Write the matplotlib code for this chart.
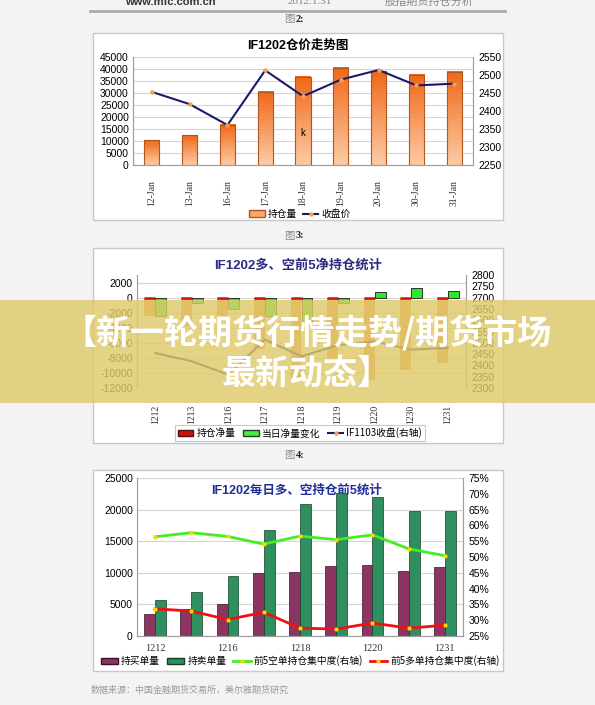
import matplotlib
matplotlib.use('Agg')
import matplotlib.pyplot as plt
import numpy as np
from matplotlib.patches import Rectangle, Patch
from matplotlib.lines import Line2D
from matplotlib.colors import LinearSegmentedColormap

plt.rcParams['font.family'] = ['Liberation Sans', 'Noto Sans CJK SC']
plt.rcParams['axes.unicode_minus'] = False
SERIF = ['Liberation Serif', 'Noto Sans CJK SC']
CJK = ['Noto Sans CJK SC', 'Liberation Sans']

# ---------------- data ----------------
dates1 = ['12-Jan', '13-Jan', '16-Jan', '17-Jan', '18-Jan', '19-Jan', '20-Jan', '30-Jan', '31-Jan']
open_interest = [10400, 12400, 16800, 30600, 36700, 40500, 39000, 37600, 38800]
close_price = [2453, 2419, 2361, 2513, 2441, 2487, 2514, 2471, 2476]

days = ['1212', '1213', '1216', '1217', '1218', '1219', '1220', '1230', '1231']
net_position = [-2400, -3800, -3000, -6800, -10800, -8300, -11000, -9600, -8700]
net_change = [-2400, -700, -1500, -2400, -3200, -700, 700, 1300, 900]
if1103_close = [2455, 2418, 2359, 2514, 2440, 2490, 2506, 2470, 2477]

buy_volume = [3430, 4200, 5000, 9970, 10070, 11020, 11230, 10280, 10970]
sell_volume = [5750, 7000, 9550, 16700, 20830, 22630, 22000, 19830, 19720]
short_conc = [56.4, 57.7, 56.5, 54.1, 56.6, 55.5, 57.0, 52.6, 50.4]
long_conc = [33.6, 32.9, 30.2, 32.5, 27.5, 27.2, 29.1, 27.5, 28.4]

# ---------------- figure helpers ----------------
W, H = 595, 705
fig = plt.figure(figsize=(W / 100, H / 100), dpi=100, facecolor='#F3F3F3')


def fx(x):
    return x / W


def fy(y):
    return 1 - y / H


def rect(x0, y0, x1, y1):
    return [x0 / W, 1 - y1 / H, (x1 - x0) / W, (y1 - y0) / H]


def box(x0, y0, x1, y1):
    fig.add_artist(Rectangle((fx(x0), fy(y1)), (x1 - x0) / W, (y1 - y0) / H,
                             transform=fig.transFigure, facecolor='white',
                             edgecolor='#C8C8C8', lw=1.0, zorder=-5))


def style(ax, axr):
    ax.set_facecolor('none')
    for a in (ax, axr):
        a.spines['top'].set_visible(False)
        for s in ('left', 'right', 'bottom'):
            a.spines[s].set_color('#A0A0A0')
            a.spines[s].set_linewidth(0.8)
    ax.tick_params(axis='y', length=0, labelsize=7.5, pad=3)
    axr.tick_params(axis='y', length=0, labelsize=7.5, pad=4)
    ax.yaxis.grid(True, color='#D6D6D6', lw=0.8)
    ax.set_axisbelow(True)


# ---------------- header ----------------
fig.text(fx(125), fy(2), 'www.mfc.com.cn', fontsize=8, weight='bold', color='#333333', va='center')
fig.text(fx(288), fy(2), '2012.1.31', fontsize=8, color='#888888', va='center', family=SERIF)
fig.text(fx(385), fy(2), '股指期货持仓分析', fontsize=8, color='#888888', va='center', family=CJK)
fig.add_artist(Line2D([fx(90), fx(505)], [fy(11), fy(11)], color='#ABABAB', lw=2,
                      transform=fig.transFigure))


def fig_label(y, num):
    fig.text(fx(284), fy(y), '图', fontsize=7.5, color='#888888', va='center', family=CJK)
    fig.text(fx(296), fy(y), num + ':', fontsize=7.5, weight='bold', color='#222222',
             va='center', family=SERIF)


# ================= Chart 1 (图2) =================
fig_label(19, '2')
box(93, 33, 503, 220)
ax1 = fig.add_axes(rect(133, 57, 473, 165))
ax1r = ax1.twinx()
style(ax1, ax1r)
x1 = np.arange(len(dates1))
bars = ax1.bar(x1, open_interest, width=0.4, facecolor='none', edgecolor='#B0561E', lw=0.8, zorder=3)
cmap = LinearSegmentedColormap.from_list('og', ['#FDCBA4', '#F06818'])
grad = np.linspace(0, 1, 100).reshape(-1, 1)
for b in bars:
    ax1.imshow(grad, extent=[b.get_x(), b.get_x() + b.get_width(), 0, b.get_height()],
               origin='lower', aspect='auto', cmap=cmap, zorder=2)
ax1.set_xlim(-0.5, len(dates1) - 0.5)
ax1.set_ylim(0, 45000)
ax1.set_yticks(np.arange(0, 45001, 5000))
ax1.set_xticks(x1)
ax1.set_xticklabels(dates1, rotation=90, family=SERIF, fontsize=7, color='#333333')
ax1.tick_params(axis='x', length=0, pad=11)
ax1.text(4, 13300, 'k', fontsize=7, ha='center', va='center', zorder=5)
ax1r.plot(x1, close_price, color='#1B1B6B', lw=1.5, marker='o', ms=2.2,
          mfc='#F5A050', mec='#F5A050', zorder=4)
ax1r.set_ylim(2250, 2550)
ax1r.set_yticks(np.arange(2250, 2551, 50))
fig.text(fx(298), fy(46), 'IF1202仓价走势图', ha='center', va='center', fontsize=9, weight='bold')
ax1.legend([Patch(fc='#F9A86E', ec='#B0561E'),
            Line2D([], [], color='#1B1B6B', lw=1.5, marker='o', ms=2.2, mfc='#F5A050', mec='#F5A050')],
           ['持仓量', '收盘价'], loc='center', bbox_to_anchor=(fx(300), fy(214)),
           bbox_transform=fig.transFigure, ncol=2, frameon=False,
           handlelength=1.6, columnspacing=0.6, handletextpad=0.3,
           prop={'family': CJK, 'size': 7})

# ================= Chart 2 (图3) =================
fig_label(236, '3')
box(93, 248, 503, 443)
ax2 = fig.add_axes(rect(137, 275, 466, 388))
ax2r = ax2.twinx()
style(ax2, ax2r)
x2 = np.arange(len(days))
w = 0.3
obars = ax2.bar(x2 - w / 2, net_position, w, color='#EE8A4A', zorder=2)
for b in obars:
    ax2.plot([b.get_x(), b.get_x() + b.get_width()], [0, 0], color='#CC1111', lw=1.8, zorder=3,
             solid_capstyle='butt')
ax2.bar(x2 + w / 2, net_change, w, color='#2EE62E', edgecolor='#1A1A1A', lw=0.6, zorder=2)
ax2.set_xlim(-0.5, len(days) - 0.5)
ax2.set_ylim(-12000, 3000)
ax2.set_yticks(np.arange(-12000, 2001, 2000))
ax2.set_xticks(x2)
ax2.set_xticklabels(days, rotation=90, family=SERIF, fontsize=7, color='#333333')
ax2.tick_params(axis='x', length=0, pad=12)
ax2.spines['bottom'].set_visible(False)
ax2r.spines['bottom'].set_visible(False)
ax2r.plot(x2, if1103_close, color='#1B1B6B', lw=1.5, zorder=4)
ax2r.set_ylim(2300, 2800)
ax2r.set_yticks(np.arange(2300, 2801, 50))
fig.text(fx(298), fy(265), 'IF1202多、空前5净持仓统计', ha='center', va='center',
         fontsize=9.5, weight='bold', color='#2B2B80')
leg2 = ax2.legend([Patch(fc='#CC1111', ec='#551111'), Patch(fc='#44EE44', ec='#224422'),
                   Line2D([], [], color='#1B1B6B', lw=1.5, marker='o', ms=2.2, mfc='#F5A050', mec='#F5A050')],
                  ['持仓净量', '当日净量变化', 'IF1103收盘(右轴)'], loc='center',
                  bbox_to_anchor=(fx(300), fy(433)), bbox_transform=fig.transFigure, ncol=3,
                  frameon=True, fancybox=False, edgecolor='#BBBBBB', handlelength=1.6,
                  columnspacing=0.8, handletextpad=0.3, borderpad=0.3,
                  prop={'family': CJK, 'size': 7})
leg2.get_frame().set_linewidth(0.8)

# ================= Chart 3 (图4) =================
fig_label(455, '4')
box(93, 470, 503, 671)
ax3 = fig.add_axes(rect(137, 478, 463, 636))
ax3r = ax3.twinx()
style(ax3, ax3r)
x3 = np.arange(len(days))
ax3.bar(x3 - w / 2, buy_volume, w, color='#8C3563', edgecolor='#3A1028', lw=0.5, zorder=2)
ax3.bar(x3 + w / 2, sell_volume, w, color='#2F8F5F', edgecolor='#143D28', lw=0.5, zorder=2)
ax3.set_xlim(-0.5, len(days) - 0.5)
ax3.set_ylim(0, 25000)
ax3.set_yticks(np.arange(0, 25001, 5000))
ax3.set_xticks(x3[::2])
ax3.set_xticklabels(days[::2], family=SERIF, fontsize=7.5, color='#333333')
ax3.tick_params(axis='x', length=0, pad=6)
ax3r.plot(x3, short_conc, color='#44EE22', lw=2, marker='o', ms=2, mfc='#FFD700', mec='#FFD700', zorder=4)
ax3r.plot(x3, long_conc, color='#EE1111', lw=2, marker='o', ms=2, mfc='#FFD700', mec='#FFD700', zorder=4)
ax3r.set_ylim(25, 75)
ax3r.set_yticks(np.arange(25, 76, 5))
ax3r.set_yticklabels([f'{v}%' for v in range(25, 76, 5)])
ax3.text(fx(297), fy(491), 'IF1202每日多、空持仓前5统计', transform=fig.transFigure,
         ha='center', va='center', fontsize=9, weight='bold', color='#1F2F99', zorder=1)
ax3.legend([Patch(fc='#8C3563', ec='#3A1028'), Patch(fc='#2F8F5F', ec='#143D28'),
            Line2D([], [], color='#44EE22', lw=2, marker='o', ms=2, mfc='#FFD700', mec='#FFD700'),
            Line2D([], [], color='#EE1111', lw=2, marker='o', ms=2, mfc='#FFD700', mec='#FFD700')],
           ['持买单量', '持卖单量', '前5空单持仓集中度(右轴)', '前5多单持仓集中度(右轴)'],
           loc='center', bbox_to_anchor=(fx(300), fy(661)), bbox_transform=fig.transFigure,
           ncol=4, frameon=False, handlelength=1.8, columnspacing=0.7, handletextpad=0.3,
           prop={'family': CJK, 'size': 7})

# ---------------- footer ----------------
fig.text(fx(91), fy(690), '数据来源：中国金融期货交易所，美尔雅期货研究', fontsize=6.5,
         color='#9A9A9A', va='center', family=CJK)

# ---------------- banner ----------------
fig.add_artist(Rectangle((0, fy(403)), 1, 103 / H, transform=fig.transFigure,
                         facecolor='#E0CA6A', alpha=0.82, edgecolor='none', zorder=20))
fig.text(fx(307), fy(333), '【新一轮期货行情走势/期货市场', ha='center', va='center',
         fontsize=24.5, weight='bold', color='white', family=CJK, zorder=21)
fig.text(fx(307), fy(373), '最新动态】', ha='center', va='center',
         fontsize=24.5, weight='bold', color='white', family=CJK, zorder=21)

fig.savefig('out.png', dpi=100, facecolor=fig.get_facecolor())
